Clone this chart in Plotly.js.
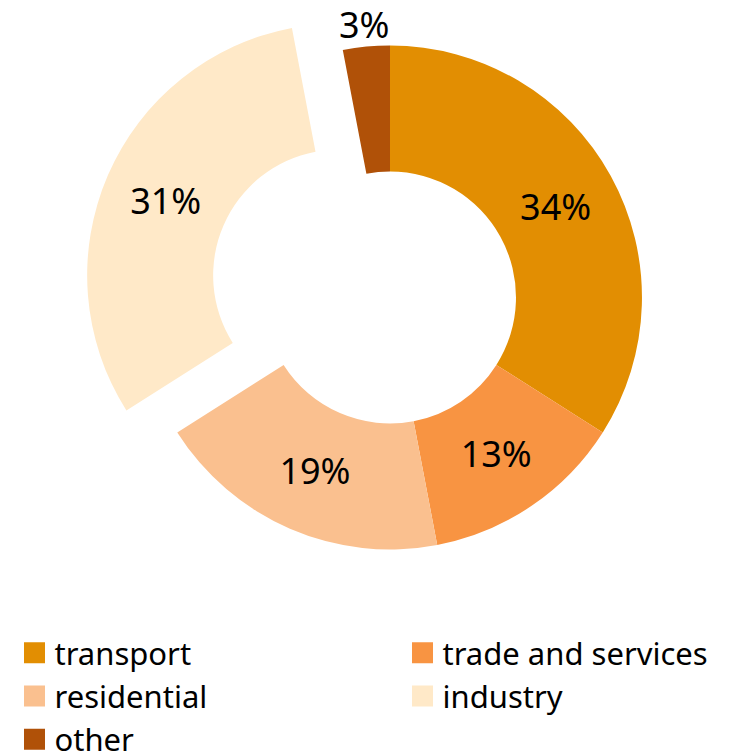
<!DOCTYPE html>
<html lang="en">
<head>
    <meta charset="UTF-8">
    <title>Energy use by sector</title>
    <script src="https://cdn.plot.ly/plotly-3.0.1.min.js"></script>
    <style>
        html, body {
            margin: 0;
            padding: 0;
            background: #fff;
            overflow: hidden;
        }
        #chart {
            margin-top: -10px;
        }
    </style>
</head>
<body>
    <div id="chart"></div>

    <script>
        // Shares by sector (%), clockwise from 12 o'clock
        const sectors = ['transport', 'trade and services', 'residential', 'industry', 'other'];
        const shares = [34, 13, 19, 31, 3];
        const colors = ['#E28E02', '#F89442', '#FAC08F', '#FFE9C8', '#B05108'];
        const pulls = [0, 0, 0, 0.22, 0];
        // the small slice gets its label outside, set as an annotation below
        const labelPositions = ['inside', 'inside', 'inside', 'inside', 'none'];

        const W = 800, H = 800;
        const domX = [0.10325, 0.87175];
        const domY = [0.23140, 1];

        const labelFont = { family: 'Noto Sans, sans-serif', size: 36, color: '#000' };

        const trace = {
            type: 'pie',
            labels: sectors,
            values: shares,
            sort: false,
            direction: 'clockwise',
            rotation: 0,
            hole: 0.5,
            pull: pulls,
            marker: { colors: colors, line: { width: 0 } },
            textinfo: 'percent',
            textposition: labelPositions,
            insidetextorientation: 'horizontal',
            textfont: labelFont,
            insidetextfont: labelFont,
            hoverinfo: 'none',
            domain: { x: domX, y: domY }
        };

        // outside label for the last (small) slice, at its mid angle
        const total = shares.reduce((a, b) => a + b, 0);
        const last = shares.length - 1;
        const before = shares.slice(0, last).reduce((a, b) => a + b, 0);
        const midAngle = (before + shares[last] / 2) / total * 2 * Math.PI;
        const boxPx = Math.min((domX[1] - domX[0]) * W, (domY[1] - domY[0]) * H);
        const radiusPx = boxPx / 2 / (1 + Math.max(...pulls));
        const labelR = radiusPx * 1.09;
        const cxPx = (domX[0] + domX[1]) / 2 * W;
        const cyPx = (1 - (domY[0] + domY[1]) / 2) * H;

        const layout = {
            width: W,
            height: H,
            margin: { l: 0, r: 0, t: 0, b: 0 },
            paper_bgcolor: '#fff',
            showlegend: true,
            legend: {
                orientation: 'h',
                x: 14.5 / W,
                xanchor: 'left',
                y: 0.205,
                yanchor: 'top',
                entrywidth: 343,
                entrywidthmode: 'pixels',
                font: { family: 'Noto Sans, sans-serif', size: 31, color: '#000' },
                bgcolor: 'rgba(0,0,0,0)'
            },
            annotations: [{
                xref: 'paper', yref: 'paper',
                x: (cxPx + labelR * Math.sin(midAngle)) / W,
                y: 1 - (cyPx - labelR * Math.cos(midAngle)) / H,
                xanchor: 'center', yanchor: 'middle',
                text: Math.round(shares[last] / total * 100) + '%',
                showarrow: false,
                font: labelFont
            }]
        };

        Plotly.newPlot('chart', [trace], layout, { displayModeBar: false, staticPlot: true })
            .then(function () {
                // bigger legend squares, as in the original
                document.querySelectorAll('#chart path.legendpie').forEach(function (p) {
                    p.setAttribute('d', 'M10.5,10.5H-10.5V-10.5H10.5Z');
                });
            });
    </script>
</body>
</html>
